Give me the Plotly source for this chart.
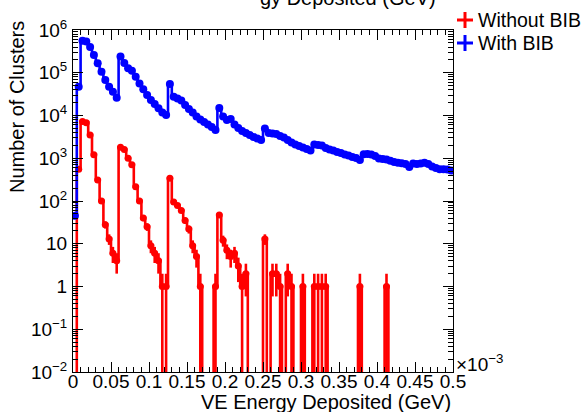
import math
import plotly.graph_objects as go

# ---------------- data ----------------
bin_width = 0.005          # x in units of 1e-3 GeV
n_bins = 100
edges = [round(i * bin_width, 6) for i in range(n_bins + 1)]
centers = [round((i + 0.5) * bin_width, 6) for i in range(n_bins)]

series_names = ["Without BIB", "With BIB"]
series_colors = ["#ff0000", "#0000ff"]

without_bib = [
    0, 550, 7200, 6800, 3500, 1200, 310, 100, 28, 13,
    6, 4, 1800, 1600, 1000, 700, 215, 100, 40, 25,
    9, 6, 4, 1, 1, 340, 95, 78, 60, 35,
    22, 9, 5, 1, 0, 0, 0, 1, 47, 12,
    7, 5, 6, 3, 1, 2, 0, 0, 0, 0,
    13, 0, 2, 2, 1, 0, 2, 1, 0, 0,
    1, 0, 0, 1, 1, 1, 1, 0, 0, 0,
    0, 0, 0, 0, 0, 1, 0, 0, 0, 0,
    0, 0, 1, 0, 0, 0, 0, 0, 0, 0,
    0, 0, 0, 0, 0, 0, 0, 0, 0, 0,
]

with_bib = [
    45, 47000, 560000, 540000, 400000, 260000, 166000, 106000, 68000, 47000,
    36000, 26000, 240000, 170000, 127000, 112000, 81000, 56000, 41000, 30000,
    23000, 18600, 14800, 11700, 10300, 54600, 27500, 25000, 22400, 17600,
    14200, 11750, 9480, 8060, 7040, 6150, 5380, 4580, 14960, 9480,
    7850, 8280, 6150, 5100, 4340, 3900, 3500, 3140, 2900, 2670,
    4970, 3900, 3800, 3690, 3310, 3050, 2670, 2340, 2100, 1935,
    1785, 1645, 1518, 2100, 2040, 1990, 1740, 1600, 1518, 1400,
    1327, 1225, 1160, 1070, 1013, 910, 1236, 1257, 1225, 1130,
    986, 960, 935, 877, 817, 783, 766, 733, 624, 754,
    733, 754, 787, 733, 641, 592, 552, 552, 546, 517,
]

x_tick_vals = [0, 0.05, 0.1, 0.15, 0.2, 0.25, 0.3, 0.35, 0.4, 0.45, 0.5]
x_tick_text = ["0", "0.05", "0.1", "0.15", "0.2", "0.25", "0.3", "0.35", "0.4", "0.45", "0.5"]
y_tick_vals = [1e-2, 1e-1, 1, 10, 1e2, 1e3, 1e4, 1e5, 1e6]
y_tick_text = ["10<sup>\u22122</sup>", "10<sup>\u22121</sup>", "1", "10",
               "10<sup>2</sup>", "10<sup>3</sup>", "10<sup>4</sup>",
               "10<sup>5</sup>", "10<sup>6</sup>"]
y_minor_vals = [k * 10.0 ** e for e in range(-2, 6) for k in range(2, 10)]

x_title = "VE Energy Deposited (GeV)"
y_title = "Number of Clusters"
top_title_visible = "gy Deposited (GeV)"
x_multiplier = "\u00d710<sup>\u22123</sup>"

# ---------------- layout geometry ----------------
W, H = 583, 412
PL, PR, PT, PB = 73, 453, 30, 372
FONT = "Liberation Sans, Arial, Helvetica, sans-serif"
FLOOR = 1e-6


def px(xp):
    return (xp - PL) / (PR - PL)


def py(yp):
    return (PB - yp) / (PB - PT)


fig = go.Figure()

for name, vals, color, msize in zip(series_names, [without_bib, with_bib], series_colors, [7, 8]):
    step_y = [v if v > 0 else FLOOR for v in vals] + [vals[-1] if vals[-1] > 0 else FLOOR]
    fig.add_trace(go.Scatter(
        x=edges, y=step_y, mode="lines", line=dict(color=color, width=2.6, shape="hv"),
        showlegend=False, hoverinfo="skip", name=name))
    pts_y = [v if v > 0 else None for v in vals]
    err_up = [math.sqrt(v) if v > 0 else 0 for v in vals]
    err_dn = [(v - FLOOR if math.sqrt(v) >= v else math.sqrt(v)) if v > 0 else 0 for v in vals]
    fig.add_trace(go.Scatter(
        x=centers, y=pts_y, mode="markers", name=name,
        marker=dict(color=color, size=msize, line=dict(width=0)),
        error_y=dict(type="data", array=err_up, arrayminus=err_dn, symmetric=False,
                     color=color, thickness=2.6, width=0),
        showlegend=False))

axis_common = dict(
    showline=True, linecolor="black", linewidth=1, mirror="allticks",
    ticks="inside", tickcolor="black", showgrid=False, zeroline=False,
    tickfont=dict(family=FONT, size=19, color="black"),
)

fig.update_xaxes(
    range=[0, 0.5], tickmode="array", tickvals=x_tick_vals, ticktext=x_tick_text,
    ticklen=10, tickwidth=1, ticklabelstandoff=-8,
    minor=dict(dtick=0.01, tick0=0, ticks="inside", ticklen=5, tickcolor="black", showgrid=False),
    **axis_common)
fig.update_yaxes(
    type="log", range=[-2, 6], tickmode="array", tickvals=y_tick_vals, ticktext=y_tick_text,
    ticklen=10, tickwidth=1, ticklabelstandoff=1,
    minor=dict(tickvals=y_minor_vals, ticks="inside", ticklen=5, tickcolor="black", showgrid=False),
    **axis_common)

annotations = [
    dict(text=x_title, x=1.0, y=py(402), xref="paper", yref="paper",
         xanchor="right", yanchor="middle", showarrow=False,
         font=dict(family=FONT, size=20, color="black")),
    dict(text=y_title, x=px(17), y=py(19), xref="paper", yref="paper",
         xanchor="center", yanchor="top", textangle=-90, showarrow=False,
         font=dict(family=FONT, size=20, color="black")),
    dict(text=x_multiplier, x=px(454), y=py(363), xref="paper", yref="paper",
         xanchor="left", yanchor="middle", showarrow=False,
         font=dict(family=FONT, size=19, color="black")),
    dict(text=top_title_visible, x=px(438), y=py(11), xref="paper", yref="paper",
         xanchor="right", yanchor="bottom", showarrow=False,
         font=dict(family=FONT, size=20, color="black")),
]

shapes = []
legend_rows = [20, 43]
for name, color, yc in zip(series_names, series_colors, legend_rows):
    xc = 465
    shapes.append(dict(type="line", xref="paper", yref="paper",
                       x0=px(xc - 8), x1=px(xc + 8), y0=py(yc), y1=py(yc),
                       line=dict(color=color, width=3)))
    shapes.append(dict(type="line", xref="paper", yref="paper",
                       x0=px(xc), x1=px(xc), y0=py(yc - 8), y1=py(yc + 8),
                       line=dict(color=color, width=3)))
    annotations.append(dict(text=name, x=px(476), y=py(yc), xref="paper", yref="paper",
                            xanchor="left", yanchor="middle", showarrow=False,
                            font=dict(family=FONT, size=19.5, color="black")))

fig.update_layout(
    width=W, height=H, autosize=False,
    margin=dict(l=PL, r=W - PR, t=PT, b=H - PB, pad=0),
    paper_bgcolor="white", plot_bgcolor="white",
    showlegend=False, annotations=annotations, shapes=shapes,
    font=dict(family=FONT, color="black"),
)

fig.write_html("out.html")
